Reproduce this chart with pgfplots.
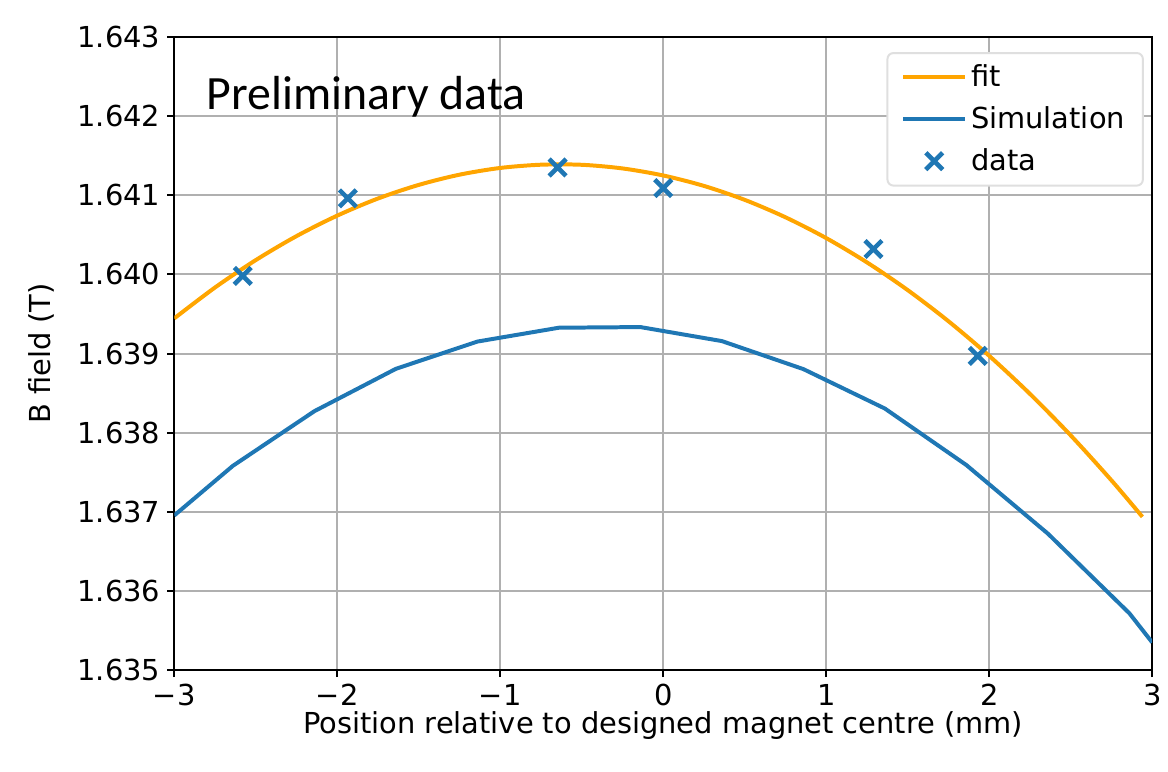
\documentclass[border=0pt]{standalone}
\usepackage{pgfplots}
\pgfplotsset{compat=1.18}
\usepackage{fontspec}
\setmainfont{DejaVu Sans}
\newfontfamily\carlito{Carlito}
\definecolor{mplblue}{HTML}{1F77B4}
\definecolor{mplorange}{HTML}{FFA500}
\definecolor{gridgray}{HTML}{B0B0B0}
\begin{document}
\begin{tikzpicture}
\begin{axis}[
  at={(0,0)}, anchor=south west,
  width=491pt, height=318pt, scale only axis,
  xmin=-3, xmax=3, ymin=1.635, ymax=1.643,
  xtick={-3,-2,-1,0,1,2,3},
  xticklabels={−3,−2,−1,0,1,2,3},
  ytick={1.635,1.636,1.637,1.638,1.639,1.640,1.641,1.642,1.643},
  yticklabels={1.635,1.636,1.637,1.638,1.639,1.640,1.641,1.642,1.643},
  grid=major,
  major grid style={gridgray, line width=1pt},
  axis line style={line width=1pt},
  tick style={black, line width=1pt},
  tick align=outside, major tick length=3.5pt,
  xtick pos=bottom, ytick pos=left,
  tick label style={font=\fontsize{14.5}{17}\selectfont},
  label style={font=\fontsize{14.5}{17}\selectfont},
  xlabel={Position relative to designed magnet centre (mm)},
  ylabel={B field (T)},
  xlabel style={yshift=4pt},
  ylabel style={yshift=5pt},
  legend style={at={(rel axis cs:0.9915,0.976)}, anchor=north east,
    draw=gray!25, line width=1pt, rounded corners=3pt,
    font=\fontsize{14.5}{17}\selectfont, inner xsep=7pt, inner ysep=4pt,
    row sep=4.5pt},
  legend cell align=left,
  legend image code/.code={\draw[mark repeat=2,mark phase=2,#1] plot coordinates {(0pt,0pt) (15.5pt,0pt) (31pt,0pt)};},
]
\addplot[mplorange, line width=2pt, smooth] coordinates {
(-3,1.639444) (-2.75,1.639834) (-2.5,1.640180) (-2.25,1.640483) (-2,1.640742)
(-1.75,1.640958) (-1.5,1.641130) (-1.25,1.641259) (-1,1.641344) (-0.75,1.641385)
(-0.5,1.641384) (-0.25,1.641338) (0,1.641249) (0.25,1.641117) (0.5,1.640941)
(0.75,1.640721) (1,1.640458) (1.25,1.640151) (1.5,1.639801) (1.75,1.639408)
(2,1.638971) (2.25,1.638490) (2.5,1.637966) (2.75,1.637398) (2.94,1.636937)
};
\addlegendentry{fit}
\addplot[mplblue, line width=2pt] coordinates {
(-3,1.636955) (-2.64,1.637582) (-2.14,1.638272) (-1.64,1.638807) (-1.14,1.639151)
(-0.64,1.639326) (-0.14,1.639334) (0.36,1.639157) (0.86,1.638803) (1.36,1.638305)
(1.86,1.637591) (2.36,1.636725) (2.86,1.635719) (3,1.635351)
};
\addlegendentry{Simulation}
\addplot[only marks, mark=x, mark size=6pt, mplblue, line width=2.3pt] coordinates {
(-2.58,1.63998) (-1.935,1.64096) (-0.648,1.64135) (0,1.64109) (1.29,1.64032) (1.93,1.63897)
};
\addlegendentry{data}
\node[anchor=west, inner sep=0pt, font=\carlito\fontsize{24}{28}\selectfont] at (rel axis cs:0.0326,0.906) {Preliminary data};
\end{axis}
\path[use as bounding box] (-87.5pt,-51pt) rectangle (496.5pt,336.5pt);
\end{tikzpicture}
\end{document}
